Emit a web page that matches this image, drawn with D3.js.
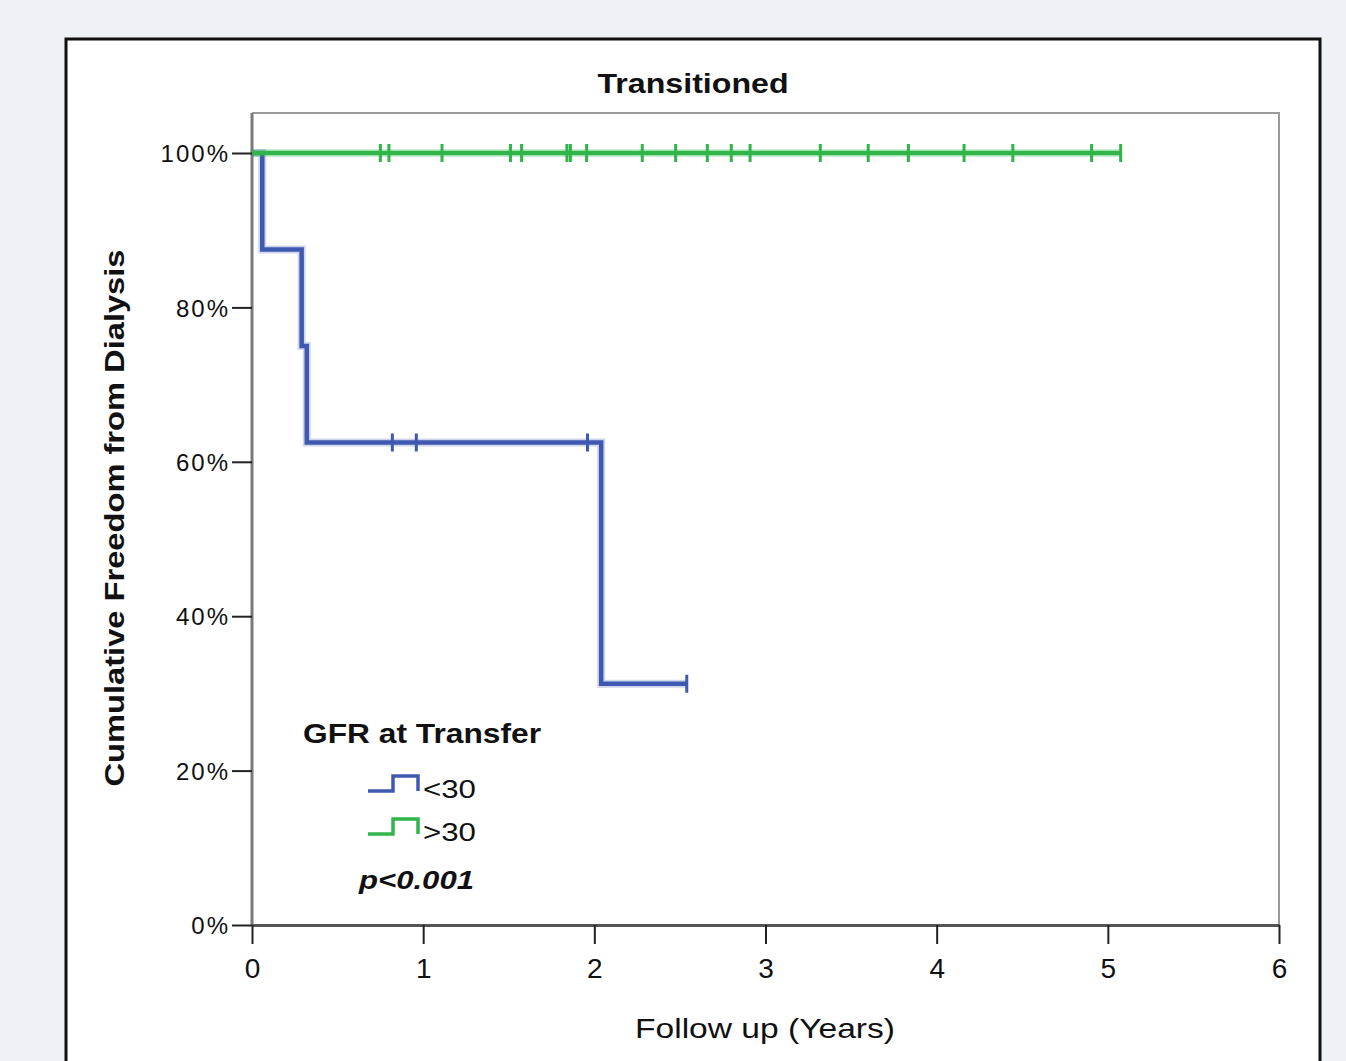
<!DOCTYPE html>
<html>
<head>
<meta charset="utf-8">
<script src="https://cdn.jsdelivr.net/npm/d3@7"></script>
<style>
  body { margin: 0; background: #eef1f5; }
  svg { display: block; }
  text { font-family: "Liberation Sans", Arial, sans-serif; fill: #111; }
</style>
</head>
<body>
<div id="chart"></div>
<script>
// survival data
var groups = ["<30", ">30"];
var colors = ["#3f59b1", "#2fb54a"];

// GFR < 30: step times (years) and cumulative freedom
var lowTimes = [0, 0.06, 0.29, 0.32, 2.04, 2.54];
var lowSurv = [1, 0.875, 0.75, 0.625, 0.3125, 0.3125];
var lowCensor = [0.82, 0.96, 1.96, 2.54];

// GFR > 30: no events
var highTimes = [0, 5.08];
var highSurv = [1, 1];
var highCensor = [0.75, 0.80, 1.11, 1.51, 1.575, 1.84, 1.86, 1.955, 2.28, 2.475,
  2.66, 2.80, 2.91, 3.32, 3.60, 3.835, 4.16, 4.445, 4.905, 5.075];

var xTicks = [0, 1, 2, 3, 4, 5, 6];
var yTicks = [0, 0.2, 0.4, 0.6, 0.8, 1];

var width = 1346, height = 1061;

var svg = d3.select("#chart")
  .append("svg")
  .attr("width", width)
  .attr("height", height);

// outer white panel
svg.append("rect")
  .attr("x", 66).attr("y", 39)
  .attr("width", 1254).attr("height", 1040)
  .attr("fill", "#fff")
  .attr("stroke", "#111")
  .attr("stroke-width", 3);

// scales
var x = d3.scaleLinear().domain([0, 6]).range([252, 1279]);
var y = d3.scaleLinear().domain([0, 1]).range([925, 153]);

// plot frame (top and right)
svg.append("path")
  .attr("d", "M" + x(0) + ",113H" + x(6) + "V" + y(0))
  .attr("fill", "none")
  .attr("stroke", "#9a9a9a")
  .attr("stroke-width", 2);

// title
svg.append("text")
  .attr("x", 693).attr("y", 93)
  .attr("text-anchor", "middle")
  .attr("font-size", 28)
  .attr("font-weight", "bold")
  .attr("textLength", 191)
  .attr("lengthAdjust", "spacingAndGlyphs")
  .text("Transitioned");

// y axis
var yAxis = svg.append("g")
  .attr("transform", "translate(" + x(0) + ",0)")
  .call(d3.axisLeft(y).tickValues(yTicks).tickFormat(d3.format(".0%"))
    .tickSizeInner(20).tickSizeOuter(0).tickPadding(2));
yAxis.select(".domain").attr("stroke", "#7a7a7a").attr("stroke-width", 3)
  .attr("d", "M0,113V" + y(0));
yAxis.selectAll(".tick line").attr("stroke", "#222").attr("stroke-width", 2);
yAxis.selectAll(".tick text")
  .attr("font-family", "'DejaVu Sans', sans-serif")
  .attr("font-size", 24)
  .attr("letter-spacing", 2)
  .attr("fill", "#333")
  .attr("dy", "0.36em");

// x axis
var xAxis = svg.append("g")
  .attr("transform", "translate(0," + y(0) + ")")
  .call(d3.axisBottom(x).tickValues(xTicks).tickFormat(d3.format("d"))
    .tickSizeInner(19).tickSizeOuter(0).tickPadding(14));
xAxis.select(".domain").attr("stroke", "#555").attr("stroke-width", 3);
xAxis.selectAll(".tick line").attr("stroke", "#222").attr("stroke-width", 2);
xAxis.selectAll(".tick text")
  .attr("font-family", "'Liberation Sans Narrow', 'Arial Narrow', sans-serif")
  .attr("font-size", 28)
  .attr("fill", "#222");

// axis titles
svg.append("text")
  .attr("x", 765).attr("y", 1038)
  .attr("text-anchor", "middle")
  .attr("font-size", 28)
  .attr("textLength", 260)
  .attr("lengthAdjust", "spacingAndGlyphs")
  .text("Follow up (Years)");

svg.append("text")
  .attr("transform", "translate(124,518) rotate(-90)")
  .attr("text-anchor", "middle")
  .attr("font-size", 28)
  .attr("font-weight", "bold")
  .attr("textLength", 537)
  .attr("lengthAdjust", "spacingAndGlyphs")
  .text("Cumulative Freedom from Dialysis");

// curves
var line = d3.line()
  .x(function(d) { return x(d[0]); })
  .y(function(d) { return y(d[1]); })
  .curve(d3.curveStepAfter);

var series = [
  { times: lowTimes, surv: lowSurv, censor: lowCensor, color: colors[0] },
  { times: highTimes, surv: highSurv, censor: highCensor, color: colors[1] }
];

series.forEach(function(s) {
  var pts = s.times.map(function(t, i) { return [t, s.surv[i]]; });
  // soft halo
  svg.append("path")
    .attr("d", line(pts))
    .attr("fill", "none")
    .attr("stroke", s.color)
    .attr("stroke-opacity", 0.25)
    .attr("stroke-width", 8);
  svg.append("path")
    .attr("d", line(pts))
    .attr("fill", "none")
    .attr("stroke", s.color)
    .attr("stroke-width", 4.5);

  // censor marks at the survival level current at each time
  svg.selectAll(null)
    .data(s.censor)
    .enter()
    .append("line")
    .attr("x1", function(d) { return x(d); })
    .attr("x2", function(d) { return x(d); })
    .attr("y1", function(d) {
      var i = d3.bisectRight(s.times, d) - 1;
      return y(s.surv[i]) - 9;
    })
    .attr("y2", function(d) {
      var i = d3.bisectRight(s.times, d) - 1;
      return y(s.surv[i]) + 9;
    })
    .attr("stroke", s.color)
    .attr("stroke-width", 3);
});

// legend
svg.append("text")
  .attr("x", 303).attr("y", 743)
  .attr("font-size", 27)
  .attr("font-weight", "bold")
  .attr("textLength", 238)
  .attr("lengthAdjust", "spacingAndGlyphs")
  .text("GFR at Transfer");

var legendY = [791, 834];
groups.forEach(function(g, i) {
  var ly = legendY[i];
  svg.append("path")
    .attr("d", "M368," + ly + "H393V" + (ly - 15) + "H418V" + ly)
    .attr("fill", "none")
    .attr("stroke", colors[i])
    .attr("stroke-width", 3.5);
  svg.append("text")
    .attr("x", 423).attr("y", ly + 7)
    .attr("font-size", 25)
    .attr("fill", "#333")
    .attr("textLength", 53)
    .attr("lengthAdjust", "spacingAndGlyphs")
    .text(g);
});

svg.append("text")
  .attr("x", 359).attr("y", 889)
  .attr("font-size", 26)
  .attr("font-weight", "bold")
  .attr("font-style", "italic")
  .attr("textLength", 115)
  .attr("lengthAdjust", "spacingAndGlyphs")
  .text("p<0.001");
</script>
</body>
</html>
